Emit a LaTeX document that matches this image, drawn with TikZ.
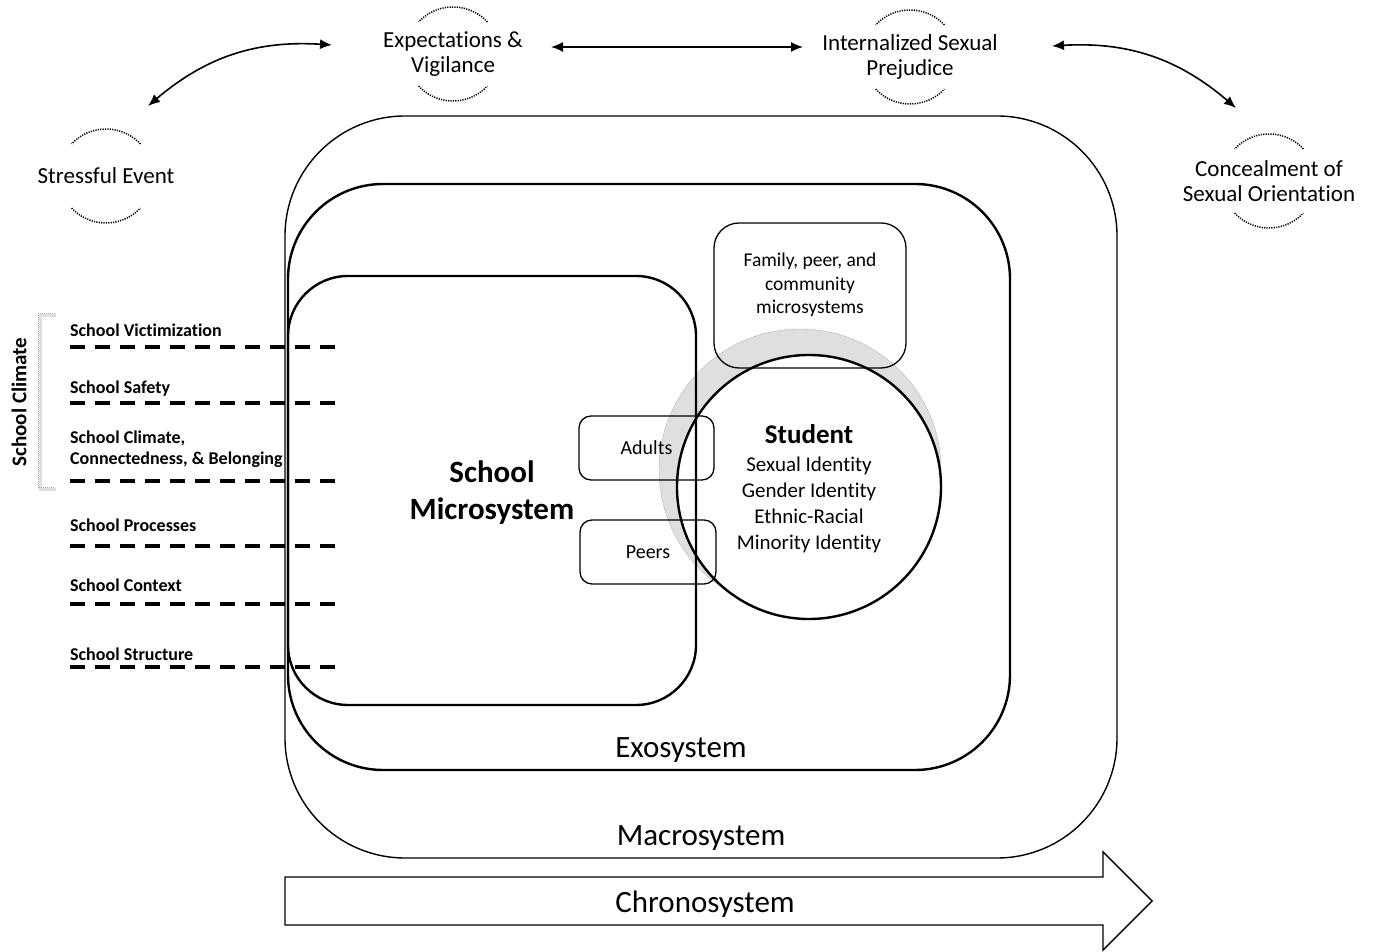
\documentclass[tikz,border=0pt]{standalone}
\usepackage{fontspec}
\setmainfont{Carlito}[Ligatures=NoCommon]
\usetikzlibrary{arrows.meta,positioning}

\begin{document}
\begin{tikzpicture}[x=1pt,y=1pt,
    stressor/.style={font=\fontsize{23}{24.5}\selectfont, align=center},
    syslabel/.style={font=\fontsize{31}{34}\selectfont},
    sysbox/.style={draw, rounded corners=#1, inner sep=0pt},
    unitbox/.style={draw, line width=1.3pt, rounded corners=#1, inner sep=0pt},
    climate/.style={font=\fontsize{18}{21}\selectfont\bfseries, anchor=west, align=left, inner sep=0pt},
    dashline/.style={line width=3.2pt, dash pattern=on 15pt off 10pt},
    link/.style={line width=1.6pt, {Latex[length=12pt,width=10pt]}-{Latex[length=12pt,width=10pt]}},
    halo/.style={dash pattern=on 1.2pt off 1.2pt, line width=1.5pt}]
    \useasboundingbox (0,0) rectangle (1375,952);

    % minority stress processes along the top
    \node[stressor] (stress)  at (106,776) {Stressful Event};
    \node[stressor] (expect)  at (453,898) {Expectations \&\\Vigilance};
    \node[stressor] (intern)  at (910,895) {Internalized Sexual\\Prejudice};
    \node[stressor] (conceal) at (1269,771) {Concealment of\\Sexual Orientation};

    % dotted half rings above and below each process
    \foreach \n in {stress,expect,intern,conceal} {
        \draw[halo] ([shift={(43:47)}]\n.center) arc (43:137:47);
        \draw[halo] ([shift={(223:47)}]\n.center) arc (223:317:47);
    }

    \draw[link] ([shift={(42,70)}]stress.center) to[bend left=22] ([shift={(-121,9)}]expect.center);
    \draw[link] ([shift={(98,7)}]expect.center) -- ([shift={(-107,10)}]intern.center);
    \draw[link] ([shift={(142,11)}]intern.center) to[bend left=22] ([shift={(-33,73)}]conceal.center);

    % student at the centre, with its shaded halo
    \node[circle, draw=gray!55, fill=gray!25, minimum size=282, inner sep=0pt] (shade) at (800,482) {};
    \node[circle, draw, line width=2.4pt, fill=white, minimum size=264, inner sep=0pt] (student) at (809,465) {};
    \node[font=\fontsize{21}{26}\selectfont, align=center] (studtext) at (809,463)
        {{\fontsize{27}{30}\selectfont\bfseries Student}\\[2pt] Sexual Identity\\ Gender Identity\\ Ethnic-Racial\\ Minority Identity};

    % nested systems
    \node[sysbox=120, line width=1.4pt, minimum width=832, minimum height=742] (macro) at (701,465) {};
    \node[sysbox=95, line width=2.4pt, minimum width=722, minimum height=586] (exo) at (649,475) {};
    \node[sysbox=60, line width=2.4pt, minimum width=408, minimum height=429] (micro) at (492,461.5) {};
    \node[syslabel] (exolabel) at (681,202) {Exosystem};
    \node[syslabel] (macrolabel) at (701,114) {Macrosystem};
    \node[font=\fontsize{31}{37}\selectfont\bfseries, align=center] (microlabel) at (492,459) {School\\Microsystem};

    % smaller settings inside
    \node[unitbox=25, minimum width=192, minimum height=145] (family) at (810,656.5) {};
    \node[font=\fontsize{19.5}{23.5}\selectfont, align=center] (familytext) at (810,667) {Family, peer, and\\community\\microsystems};
    \node[unitbox=12, minimum width=135, minimum height=64, font=\fontsize{20}{24}\selectfont] (adults) at (646.5,504) {Adults};
    \node[unitbox=12, minimum width=136, minimum height=64, font=\fontsize{20}{24}\selectfont] (peers) at (648,400) {Peers};

    % school climate measures
    \foreach \ly/\ty/\txt [count=\k] in {605/622/School Victimization, 549/563/School Safety,
        471/502.5/{School Climate,\\Connectedness, \& Belonging}, 406/427/School Processes,
        348/367/School Context, 285/298/School Structure} {
        \node[climate] (m\k) at (70,\ty) {\txt};
        \coordinate (e\k) at (340,\ly);
        \draw[dashline] (m\k.west |- e\k) -- (e\k);
    }
    \draw[gray!25, line width=3pt] (56,636) -- (40,636) -- (40,462) -- (56,462);
    \draw[gray!70, densely dotted, line width=1pt] (55,638) -- (38,638) -- (38,464) -- (55,464);
    \node[rotate=90, font=\fontsize{21}{24}\selectfont\bfseries] (climatelabel) at (19,550) {School Climate};

    % time
    \draw[line width=1.4pt] (285,75) -- (1103,75) -- (1103,100) -- (1152,51) -- (1103,2) -- (1103,27) -- (285,27) -- cycle;
    \node[syslabel] (chrono) at (705,48) {Chronosystem};
\end{tikzpicture}
\end{document}
